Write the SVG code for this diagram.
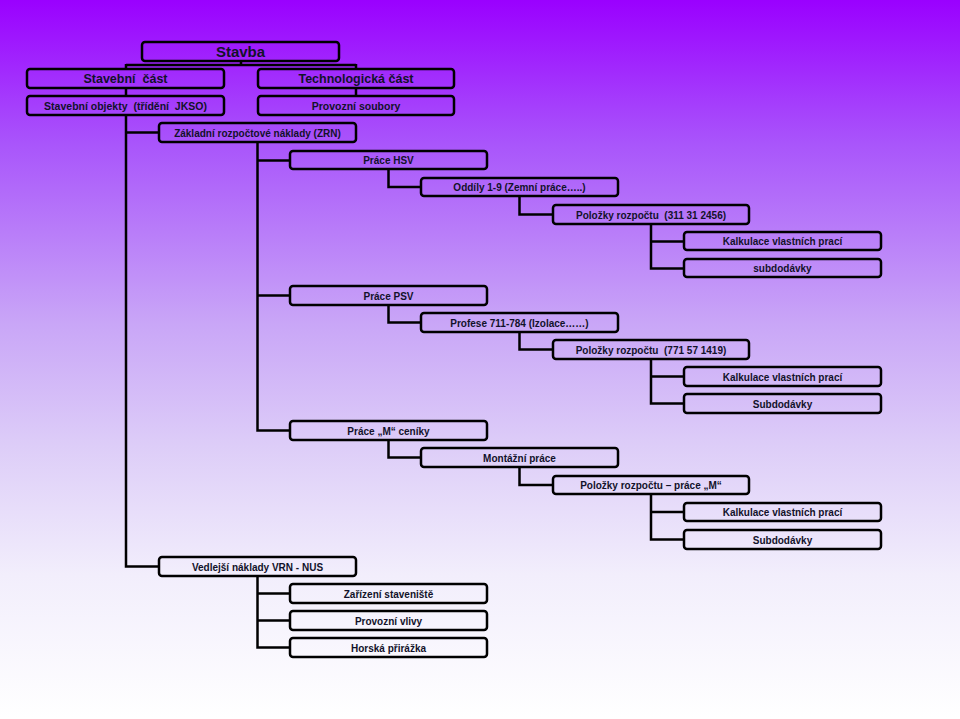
<svg xmlns="http://www.w3.org/2000/svg" width="960" height="719" viewBox="0 0 960 719">
<defs>
<linearGradient id="bg" x1="0" y1="0" x2="0" y2="1">
<stop offset="0" stop-color="#9a00ff"/>
<stop offset="0.2" stop-color="#a955fb"/>
<stop offset="0.45" stop-color="#c9a6f7"/>
<stop offset="0.62" stop-color="#ddcdf8"/>
<stop offset="0.8" stop-color="#f2eefc"/>
<stop offset="1" stop-color="#ffffff"/>
</linearGradient>
<style>
.b{fill:none;stroke:#000;stroke-width:2.5}
.t{font-family:"Liberation Sans",Arial,sans-serif;font-weight:bold;font-size:10px;fill:#12122a;text-anchor:middle;white-space:pre}
.c{fill:none;stroke:#000;stroke-width:2.5}
</style>
</defs>
<rect width="960" height="719" fill="url(#bg)"/>
<g id="connectors" class="c">
<path d="M241,61 V65 M126,65 H356 M126,64 V69 M356,64 V69"/>
<path d="M126,88 V96 M356,88 V96"/>
<path d="M126,115 V566.5 H159 M126,132.5 H159"/>
<path d="M257.5,142 V430.5 H290 M257.5,160.5 H290 M257.5,295.5 H290"/>
<path d="M388.5,169 V187 H421"/>
<path d="M519.5,196 V214.5 H553"/>
<path d="M651,224 V268.5 H684 M651,241.5 H684"/>
<path d="M388.5,305 V322.5 H421"/>
<path d="M519.5,332 V349.5 H553"/>
<path d="M651,359 V403.5 H684 M651,376.5 H684"/>
<path d="M388.5,440 V457.5 H421"/>
<path d="M519.5,467 V485 H553"/>
<path d="M651,494 V539.5 H684 M651,512 H684"/>
<path d="M257.5,576 V647.5 H290 M257.5,593.5 H290 M257.5,620.5 H290"/>
</g>
<g id="stavba"><rect class="b" x="142" y="42" width="197" height="19" rx="3"/><text class="t" x="240.5" y="57" style="font-size:15px">Stavba</text></g>
<g id="stavebni-cast"><rect class="b" x="27" y="69" width="197" height="19" rx="3"/><text class="t" x="125.5" y="83" style="font-size:12.5px">Stavební  část</text></g>
<g id="technologicka-cast"><rect class="b" x="258" y="69" width="196" height="19" rx="3"/><text class="t" x="356" y="83" style="font-size:12.5px">Technologická část</text></g>
<g id="stavebni-objekty"><rect class="b" x="27" y="96" width="197" height="19" rx="3"/><text class="t" x="125.5" y="109.5" style="font-size:10.5px">Stavební objekty  (třídění  JKSO)</text></g>
<g id="provozni-soubory"><rect class="b" x="258" y="96" width="196" height="19" rx="3"/><text class="t" x="356" y="109.5" style="font-size:10.5px">Provozní soubory</text></g>
<g id="zrn"><rect class="b" x="159" y="123" width="197" height="19" rx="3"/><text class="t" x="257.5" y="136.5">Základní rozpočtové náklady (ZRN)</text></g>
<g id="prace-hsv"><rect class="b" x="290" y="151" width="197" height="18" rx="3"/><text class="t" x="388.5" y="164">Práce HSV</text></g>
<g id="oddily"><rect class="b" x="421" y="178" width="197" height="18" rx="3"/><text class="t" x="519.5" y="191">Oddíly 1-9 (Zemní práce…..)</text></g>
<g id="polozky-hsv"><rect class="b" x="553" y="205" width="196" height="19" rx="3"/><text class="t" x="651" y="218.5">Položky rozpočtu  (311 31 2456)</text></g>
<g id="kalkulace-hsv"><rect class="b" x="684" y="232" width="197" height="18" rx="3"/><text class="t" x="782.5" y="245">Kalkulace vlastních prací</text></g>
<g id="subdodavky-hsv"><rect class="b" x="684" y="259" width="197" height="18" rx="3"/><text class="t" x="782.5" y="272">subdodávky</text></g>
<g id="prace-psv"><rect class="b" x="290" y="286" width="197" height="19" rx="3"/><text class="t" x="388.5" y="299.5">Práce PSV</text></g>
<g id="profese"><rect class="b" x="421" y="313" width="197" height="19" rx="3"/><text class="t" x="519.5" y="326.5">Profese 711-784 (Izolace……)</text></g>
<g id="polozky-psv"><rect class="b" x="553" y="340" width="196" height="19" rx="3"/><text class="t" x="651" y="353.5">Položky rozpočtu  (771 57 1419)</text></g>
<g id="kalkulace-psv"><rect class="b" x="684" y="367" width="197" height="19" rx="3"/><text class="t" x="782.5" y="380.5">Kalkulace vlastních prací</text></g>
<g id="subdodavky-psv"><rect class="b" x="684" y="394" width="197" height="19" rx="3"/><text class="t" x="782.5" y="407.5">Subdodávky</text></g>
<g id="prace-m"><rect class="b" x="290" y="421" width="197" height="19" rx="3"/><text class="t" x="388.5" y="434.5">Práce „M“ ceníky</text></g>
<g id="montazni"><rect class="b" x="421" y="448" width="197" height="19" rx="3"/><text class="t" x="519.5" y="461.5">Montážní práce</text></g>
<g id="polozky-m"><rect class="b" x="553" y="476" width="196" height="18" rx="3"/><text class="t" x="651" y="489">Položky rozpočtu – práce „M“</text></g>
<g id="kalkulace-m"><rect class="b" x="684" y="503" width="197" height="18" rx="3"/><text class="t" x="782.5" y="516">Kalkulace vlastních prací</text></g>
<g id="subdodavky-m"><rect class="b" x="684" y="530" width="197" height="19" rx="3"/><text class="t" x="782.5" y="543.5">Subdodávky</text></g>
<g id="vrn"><rect class="b" x="159" y="557" width="197" height="19" rx="3"/><text class="t" x="257.5" y="570.5">Vedlejší náklady VRN - NUS</text></g>
<g id="zarizeni"><rect class="b" x="290" y="584" width="197" height="19" rx="3"/><text class="t" x="388.5" y="597.5">Zařízení staveniště</text></g>
<g id="provozni-vlivy"><rect class="b" x="290" y="611" width="197" height="19" rx="3"/><text class="t" x="388.5" y="624.5">Provozní vlivy</text></g>
<g id="horska"><rect class="b" x="290" y="638" width="197" height="19" rx="3"/><text class="t" x="388.5" y="651.5">Horská přirážka</text></g>
</svg>
